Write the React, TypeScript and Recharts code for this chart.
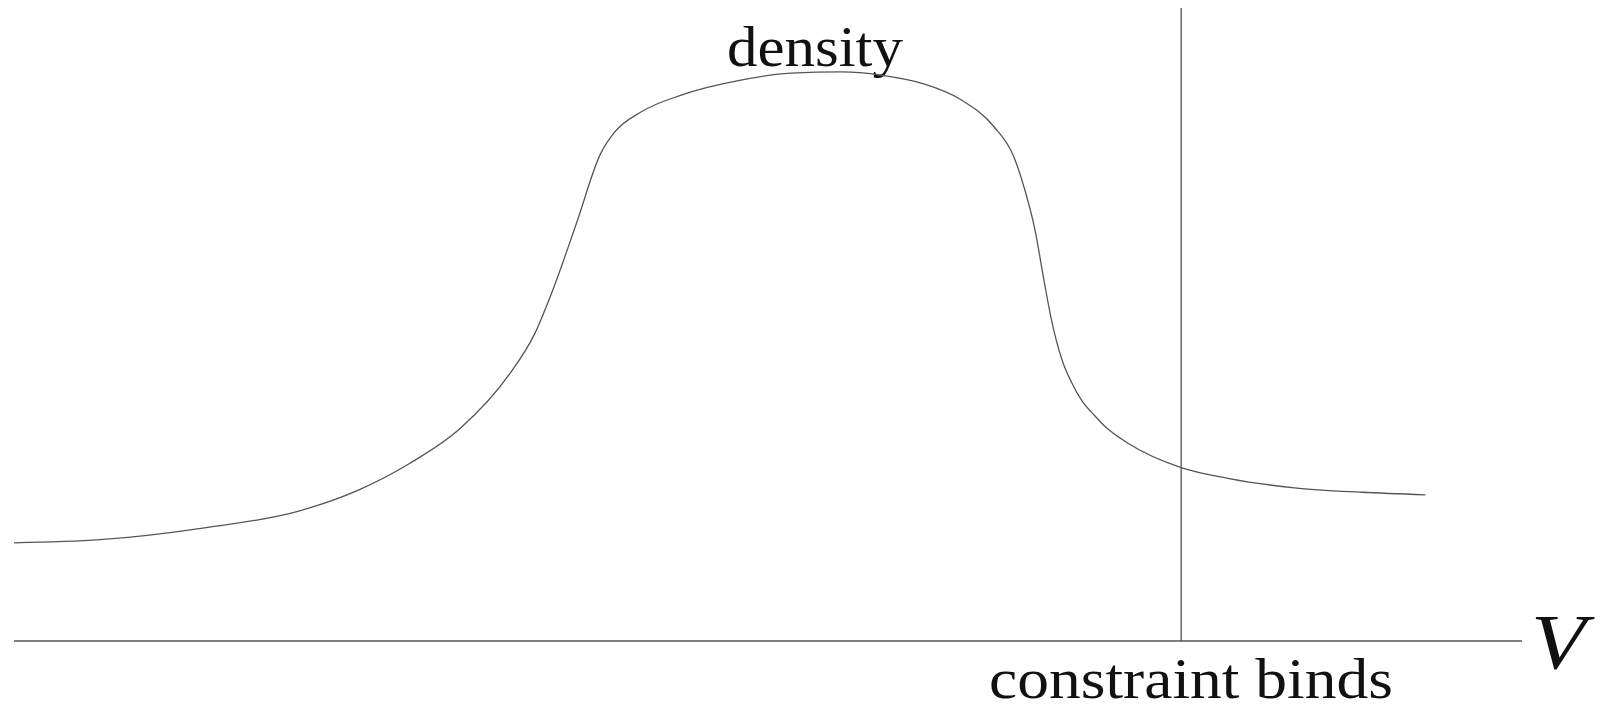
import React from 'react';
import { LineChart, Line, XAxis, YAxis, ReferenceLine } from 'recharts';

// curve (x: 0-100 along the axis, y: 0-100 up the plot)
const xValues = [0, 5.7, 12.4, 19.0, 22.8, 26.2, 29.6, 32.9, 34.5, 35.8, 37.3, 38.9, 39.8, 41.6, 44.2, 48.2, 51.5, 54.9, 57.5, 60.2, 62.8, 65.0, 66.3, 67.0, 67.7, 68.3, 68.8, 69.5, 70.1, 70.8, 71.7, 72.3, 73.9, 77.4, 80.5, 84.9, 89.4, 93.6];
const densityValues = [15.5, 16.0, 17.8, 20.6, 23.8, 28.0, 33.6, 42.3, 48.4, 55.9, 66.0, 77.0, 80.3, 83.6, 86.2, 88.6, 89.7, 89.9, 89.4, 88.1, 85.5, 81.2, 76.5, 71.5, 65.0, 57.0, 50.7, 44.4, 41.0, 38.0, 35.5, 34.0, 31.2, 27.4, 25.7, 24.2, 23.5, 23.1];
const constraintX = 77.4;

const curveLabel = 'density';
const constraintLabel = 'constraint binds';
const axisLabel = 'V';

const data = xValues.map((x, i) => ({ x, density: densityValues[i] }));

const LINE = '#555';
const serif = '"Liberation Serif", "Times New Roman", serif';

const App: React.FC = () => {
  return (
    <div style={{ width: 1602, height: 712, background: '#fff' }}>
      <style>{`body{margin:0;}`}</style>
      <LineChart width={1602} height={712} data={data} margin={{ top: 8, right: 80, left: 14, bottom: 70 }}>
        <XAxis
          dataKey="x"
          type="number"
          domain={[0, 100]}
          tick={false}
          tickLine={false}
          height={1}
          axisLine={{ stroke: LINE, strokeWidth: 1.3 }}
        />
        <YAxis type="number" domain={[0, 100]} hide />
        <ReferenceLine x={constraintX} stroke={LINE} strokeWidth={1.3} />
        <Line
          type="monotone"
          dataKey="density"
          stroke={LINE}
          strokeWidth={1.3}
          dot={false}
          isAnimationActive={false}
        />
        <text x={815} y={66} textAnchor="middle" fontFamily={serif} fontSize={58} fill="#111" textLength={176} lengthAdjust="spacingAndGlyphs">
          {curveLabel}
        </text>
        <text x={1191} y={698} textAnchor="middle" fontFamily={serif} fontSize={56} fill="#111" textLength={404} lengthAdjust="spacingAndGlyphs">
          {constraintLabel}
        </text>
        <text x={1531} y={668} fontFamily={serif} fontStyle="italic" fontSize={78} fill="#111" textLength={55} lengthAdjust="spacingAndGlyphs">
          {axisLabel}
        </text>
      </LineChart>
    </div>
  );
};

export default App;
